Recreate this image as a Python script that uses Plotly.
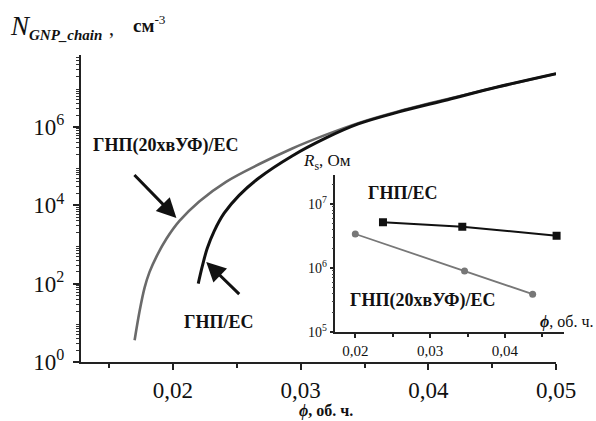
import plotly.graph_objects as go

# ---- main chart data (phi, vol. fraction ; N, cm^-3) ----
phi_gnp20 = [0.01700, 0.01739, 0.01778, 0.01817, 0.01872, 0.01949, 0.02051, 0.02206,
             0.02416, 0.02673, 0.02930, 0.03195, 0.03451, 0.03763, 0.04152, 0.04541, 0.0500]
n_gnp20 = [3.6, 20, 79, 200, 500, 1.4e3, 4.0e3, 1.26e4,
           4.0e4, 1.12e5, 2.8e5, 6.3e5, 1.26e6, 2.5e6, 5.2e6, 1.05e7, 2.3e7]

phi_gnp = [0.02198, 0.02230, 0.02268, 0.02323, 0.02401, 0.02518, 0.02673,
           0.02930, 0.03195, 0.03451, 0.03763, 0.04152, 0.04541, 0.0500]
n_gnp = [100, 280, 790, 2.2e3, 6.3e3, 1.8e4, 5.0e4,
         1.8e5, 5.2e5, 1.2e6, 2.4e6, 5.0e6, 1.05e7, 2.3e7]

# ---- inset data (phi ; R, Ohm) ----
phi_in_gnp = [0.0237, 0.0343, 0.0469]
r_gnp = [5.2e6, 4.4e6, 3.2e6]
phi_in_gnp20 = [0.0200, 0.0346, 0.0437]
r_gnp20 = [3.4e6, 9.0e5, 3.9e5]

main_xticks = [0.02, 0.03, 0.04, 0.05]
main_xticktext = ["0,02", "0,03", "0,04", "0,05"]
main_yticks = [1, 1e2, 1e4, 1e6]
main_yticktext = ["10<sup>0</sup>", "10<sup>2</sup>", "10<sup>4</sup>", "10<sup>6</sup>"]
main_yticks_odd = [10, 1e3, 1e5, 1e7]
inset_xticks = [0.02, 0.03, 0.04]
inset_xticktext = ["0,02", "0,03", "0,04"]
inset_yticks = [1e5, 1e6, 1e7]
inset_yticktext = ["10<sup>5</sup>", "10<sup>6</sup>", "10<sup>7</sup>"]

label_gnp = "ГНП/ЕС"
label_gnp20 = "ГНП(20хвУФ)/ЕС"

FONT = "Liberation Serif, Times New Roman, serif"
W, H = 596, 421
L, R, T, B = 81, 29, 55, 59
PW, PH = W - L - R, H - T - B


def px(x):
    return (x - L) / PW


def py(y):
    return (H - B - y) / PH


fig = go.Figure()
fig.add_trace(go.Scatter(x=phi_gnp20, y=n_gnp20, mode="lines",
                         line=dict(color="#6a6a6a", width=2.6, shape="spline", smoothing=1.0),
                         xaxis="x", yaxis="y", showlegend=False))
fig.add_trace(go.Scatter(x=phi_gnp, y=n_gnp, mode="lines",
                         line=dict(color="#111111", width=3, shape="spline", smoothing=1.0),
                         xaxis="x", yaxis="y", showlegend=False))
fig.add_trace(go.Scatter(x=phi_in_gnp, y=r_gnp, mode="lines+markers",
                         line=dict(color="#111111", width=2),
                         marker=dict(symbol="square", size=8, color="#111111"),
                         xaxis="x2", yaxis="y2", showlegend=False))
fig.add_trace(go.Scatter(x=phi_in_gnp20, y=r_gnp20, mode="lines+markers",
                         line=dict(color="#777777", width=1.8),
                         marker=dict(symbol="circle", size=7, color="#777777"),
                         xaxis="x2", yaxis="y2", showlegend=False))

axis_common = dict(showgrid=False, zeroline=False, showline=True, linecolor="#222",
                   linewidth=2, ticks="outside", tickcolor="#222", mirror=False)

minor_main_y = [k * 10 ** d for d in range(0, 8) for k in range(2, 10)]
minor_inset_y = [k * 10 ** d for d in range(5, 8) for k in range(2, 10)]

x_main_end = 478 / PW
fig.update_layout(
    width=W, height=H, margin=dict(l=L, r=R, t=T, b=B),
    paper_bgcolor="white", plot_bgcolor="rgba(0,0,0,0)",
    font=dict(family=FONT, color="#111"),
    xaxis=dict(axis_common, domain=[0, x_main_end], range=[0.0128, 0.05],
               tickvals=main_xticks, ticktext=main_xticktext, ticklen=6, tickwidth=2,
               tickfont=dict(size=23, family=FONT, color="#111"),
               minor=dict(ticks="outside", ticklen=4, tickwidth=2, tickcolor="#222",
                          tickvals=[0.015, 0.025, 0.035, 0.045])),
    yaxis=dict(axis_common, type="log", domain=[0, 1], range=[0, 7.84],
               tickvals=main_yticks, ticktext=main_yticktext, ticklen=6, tickwidth=2,
               ticklabelstandoff=4,
               tickfont=dict(size=23, family=FONT, color="#111"),
               minor=dict(ticks="outside", ticklen=3, tickwidth=1, tickcolor="#333",
                          tickvals=minor_main_y)),
    yaxis3=dict(type="log", overlaying="y", side="left", range=[0, 7.84], showgrid=False,
                zeroline=False, showline=False, ticks="outside", ticklen=6, tickwidth=2,
                tickcolor="#222", tickvals=main_yticks_odd, showticklabels=False,
                anchor="x"),
    xaxis2=dict(axis_common, anchor="y2", domain=[px(337), 1.0], range=[0.017344, 0.04789],
                tickvals=inset_xticks, ticktext=inset_xticktext, ticklen=4, tickwidth=1.5,
                linewidth=1.5, tickfont=dict(size=15, family=FONT, color="#111"),
                minor=dict(ticks="outside", ticklen=3, tickwidth=1.5, tickcolor="#222",
                           tickvals=[0.025, 0.035, 0.045])),
    yaxis2=dict(axis_common, anchor="x2", type="log", domain=[py(332), py(175)],
                range=[5, 7.453], tickvals=inset_yticks, ticktext=inset_yticktext,
                ticklen=4, tickwidth=1.5, linewidth=1.5,
                tickfont=dict(size=14, family=FONT, color="#111"),
                minor=dict(ticks="outside", ticklen=2, tickwidth=1, tickcolor="#444",
                           tickvals=minor_inset_y)),
)

ann = []


def text(x, y, s, size, xanchor="center", yanchor="middle"):
    ann.append(dict(x=px(x), y=py(y), xref="paper", yref="paper", text=s, showarrow=False,
                    xanchor=xanchor, yanchor=yanchor,
                    font=dict(family=FONT, size=size, color="#111")))


text(167, 145, "<b>" + label_gnp20 + "</b>", 18)
text(219, 322, "<b>" + label_gnp + "</b>", 18)
text(404, 193, "<b>" + label_gnp + "</b>", 18)
text(425, 300, "<b>" + label_gnp20 + "</b>", 18)
text(302, 162, "<i>R</i><sub>s</sub>, Ом", 17, xanchor="left")
text(541, 322, "<b><i>ϕ</i></b>, об. ч.", 16, xanchor="left")
text(298, 411, "<b><i>ϕ</i>, об. ч.</b>", 16, xanchor="left")
# y-axis title
text(8, 27, "<span style='font-size:27px'><i>N</i></span>"
     "<sub><span style='font-size:15px'><b><i>GNP_chain</i></b></span></sub>", 22,
     xanchor="left")
text(107, 28, ",", 20, xanchor="left")
text(131, 24, "<b>см</b><sup>-3</sup>", 19, xanchor="left")

# arrows pointing at the curves
ann.append(dict(x=px(177), y=py(218), xref="paper", yref="paper", ax=-45, ay=-46,
                showarrow=True, arrowhead=2, arrowsize=1.3, arrowwidth=3, arrowcolor="#111",
                text=" "))
ann.append(dict(x=px(207), y=py(262), xref="paper", yref="paper", ax=36, ay=35,
                showarrow=True, arrowhead=2, arrowsize=1.3, arrowwidth=3, arrowcolor="#111",
                text=" "))

fig.update_layout(annotations=ann)
fig.write_html("out.html")
